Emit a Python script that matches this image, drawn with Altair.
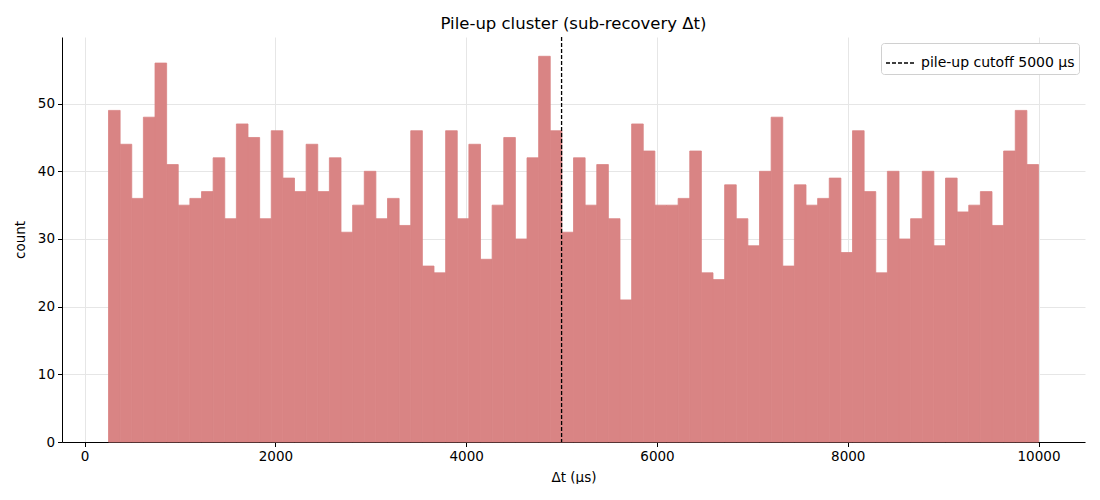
import altair as alt
import pandas as pd

counts = [49, 44, 36, 48, 56, 41, 35, 36, 37, 42,
          33, 47, 45, 33, 46, 39, 37, 44, 37, 42,
          31, 35, 40, 33, 36, 32, 46, 26, 25, 46,
          33, 44, 27, 35, 45, 30, 42, 57, 46, 31,
          42, 35, 41, 33, 21, 47, 43, 35, 35, 36,
          43, 25, 24, 38, 33, 29, 40, 48, 26, 38,
          35, 36, 39, 28, 46, 37, 25, 40, 30, 33,
          40, 29, 39, 34, 35, 37, 32, 43, 49, 41]
bin_start = 250.0
bin_stop = 10000.0
cutoff = [5000]
legend_label = ["pile-up cutoff 5000 μs"]

n = len(counts)
w = (bin_stop - bin_start) / n
hist = pd.DataFrame({
    "x0": [bin_start + i * w for i in range(n)],
    "x1": [bin_start + (i + 1) * w for i in range(n)],
    "count": counts,
})
cut = pd.DataFrame({"x": cutoff, "label": legend_label})

font = "DejaVu Sans"
xscale = alt.Scale(domain=[-237.5, 10487.5], nice=False, zero=False)
yscale = alt.Scale(domain=[0, 59.85], nice=False)

bars = alt.Chart(hist).mark_rect(color="#d98484", opacity=1, stroke="#d98484",
                                 strokeWidth=0.8).encode(
    x=alt.X("x0:Q", scale=xscale, title="Δt (μs)",
            axis=alt.Axis(values=[0, 2000, 4000, 6000, 8000, 10000], format="d")),
    x2="x1:Q",
    y=alt.Y("count:Q", scale=yscale, title="count",
            axis=alt.Axis(values=[0, 10, 20, 30, 40, 50])),
    y2=alt.datum(0),
)

rule = alt.Chart(cut).mark_rule(color="black", strokeWidth=1.3).encode(
    x=alt.X("x:Q", scale=xscale),
    strokeDash=alt.StrokeDash("label:N",
                              scale=alt.Scale(domain=legend_label, range=[[4, 2]]),
                              legend=alt.Legend(title=None, orient="top-right",
                                                symbolType="stroke", symbolStrokeColor="black",
                                                symbolStrokeWidth=1.3, symbolSize=900,
                                                fillColor="white", strokeColor="#d0d0d0",
                                                padding=4, cornerRadius=3,
                                                labelFont=font, labelFontSize=14,
                                                labelColor="black", offset=6)),
)

chart = alt.layer(bars, rule).properties(
    width=1023, height=405,
    title=alt.Title("Pile-up cluster (sub-recovery Δt)", font=font, fontSize=16.5,
                    fontWeight="normal", color="black", offset=4),
    padding={"left": 5, "top": 7, "right": 2, "bottom": 0},
).configure_view(stroke=None).configure_axis(
    labelFont=font, labelFontSize=13.5, labelColor="black",
    titleFont=font, titleFontSize=13.5, titleFontWeight="normal", titleColor="black",
    domainColor="black", domainWidth=1, tickColor="black", tickSize=4.5,
    gridColor="#e6e6e6", gridWidth=1, labelPadding=3,
).configure_axisY(titlePadding=10).configure_axisX(titlePadding=7)

chart.save("out.html", embed_options={"renderer": "svg", "actions": False})
